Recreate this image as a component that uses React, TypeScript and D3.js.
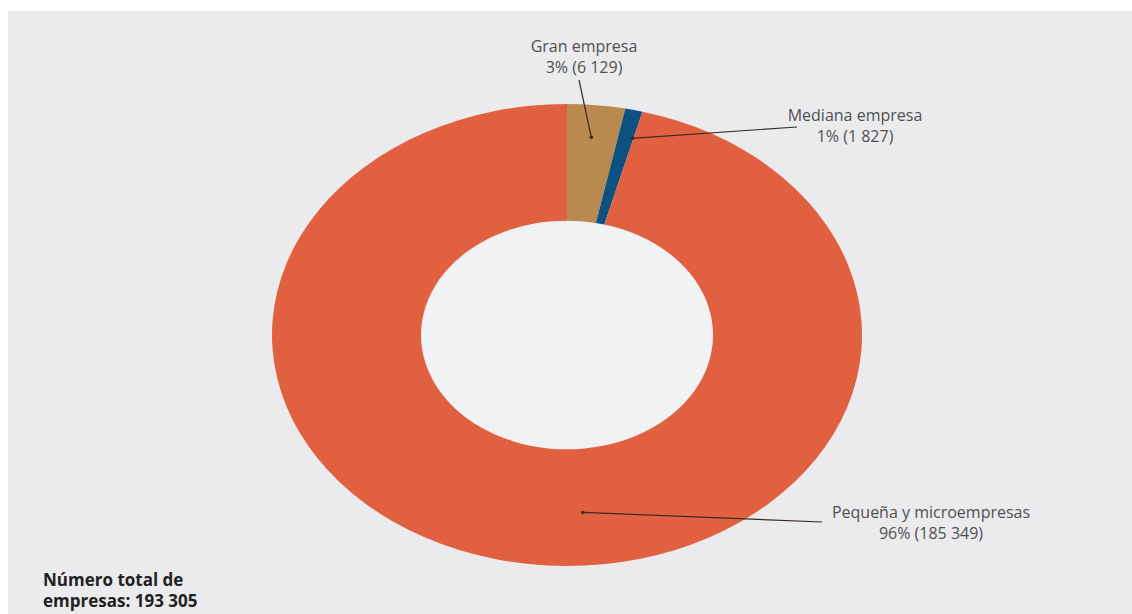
import React from "react";
import * as d3 from "d3";

const categories = ["Gran empresa", "Mediana empresa", "Pequeña y microempresas"];
const values = [6129, 1827, 185349];
const percentLabels = ["3%", "1%", "96%"];
const valueLabels = ["6 129", "1 827", "185 349"];
const colors = ["#b98a4f", "#0c5180", "#e0603f"];
const totalLabel = ["Número total de", "empresas: 193 305"];

// layout only
const W = 1132, H = 614;
const CX = 567, CY = 335, RX = 295, RY = 231, INNER = 0.495;
const labelLayout = [
  { dotAngle: 5.5, dotR: 0.86, lineEnd: [579, 80], textX: 584, textY: 52 },
  { dotAngle: 14.6, dotR: 0.88, lineEnd: [797, 127], textX: 855, textY: 121 },
  { dotAngle: 176, dotR: 0.77, lineEnd: [822, 522], textX: 931, textY: 518 },
];

export default function App() {
  const pie = d3.pie<number>().sort(null).value((d) => d)(values);
  const arc = d3.arc<d3.PieArcDatum<number>>().innerRadius(RY * INNER).outerRadius(RY);
  const sx = d3.scaleLinear().domain([-1, 1]).range([CX - RX, CX + RX]);
  const sy = d3.scaleLinear().domain([-1, 1]).range([CY - RY, CY + RY]);
  const font = "'Open Sans', 'Liberation Sans', sans-serif";
  return (
    <svg width={W} height={H} style={{ position: "absolute", left: 0, top: 0 }}>
      <rect x={0} y={0} width={W} height={H} fill="#ffffff" />
      <rect x={8} y={11} width={W - 8} height={H - 11} fill="#ebebed" />
      <ellipse cx={CX + 1} cy={CY + 1} rx={RX * INNER} ry={RY * INNER} fill="#f1f2f4" />
      <g transform={`translate(${CX},${CY}) scale(${RX / RY},1)`}>
        {pie.map((p, i) => (
          <path key={i} d={arc(p) || ""} fill={colors[i]} />
        ))}
      </g>
      {labelLayout.map((l, i) => {
        const a = (l.dotAngle * Math.PI) / 180;
        const dx = sx(l.dotR * Math.sin(a));
        const dy = sy(-l.dotR * Math.cos(a));
        return (
          <g key={i}>
            <line x1={dx} y1={dy} x2={l.lineEnd[0]} y2={l.lineEnd[1]} stroke="#3a2a24" strokeWidth={1.2} />
            <circle cx={dx} cy={dy} r={1.8} fill="#3a2a24" />
            <text x={l.textX} y={l.textY} textAnchor="middle" fontFamily={font} fontSize={16} fill="#505050">
              {categories[i]}
            </text>
            <text x={l.textX} y={l.textY + 21} textAnchor="middle" fontFamily={font} fontSize={16} fill="#505050">
              {`${percentLabels[i]} (${valueLabels[i]})`}
            </text>
          </g>
        );
      })}
      <text x={43} y={586} fontFamily={font} fontSize={17} fontWeight="bold" fill="#222">
        {totalLabel[0]}
      </text>
      <text x={43} y={607} fontFamily={font} fontSize={17} fontWeight="bold" fill="#222">
        {totalLabel[1]}
      </text>
    </svg>
  );
}
